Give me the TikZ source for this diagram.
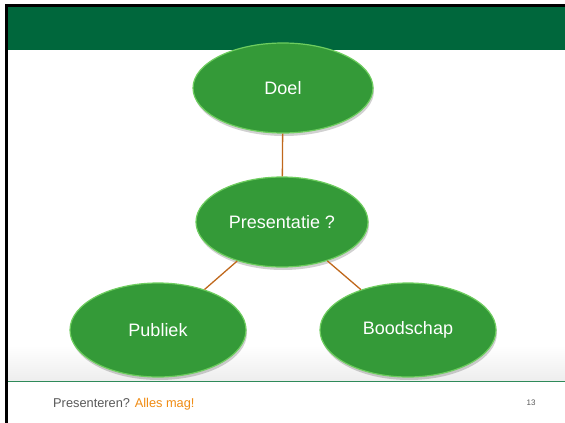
\documentclass[tikz,border=0pt]{standalone}
\usepackage{fontspec}
\setmainfont{Liberation Sans}
\usetikzlibrary{shapes.geometric,shadings}
\definecolor{bargreen}{RGB}{0,103,60}
\definecolor{ballgreen}{RGB}{52,154,56}
\definecolor{rimgreen}{RGB}{110,205,95}
\definecolor{linkbrown}{RGB}{192,104,28}
\definecolor{footgray}{RGB}{89,89,89}
\definecolor{footorange}{RGB}{240,140,20}
\definecolor{rulegreen}{RGB}{47,138,90}
\tikzset{
  ball/.style={ellipse, fill=ballgreen, draw=rimgreen, line width=1.2pt, inner sep=0pt,
    text=white, font=\fontsize{18}{20}\selectfont},
  ballshadow/.style={ellipse, fill=black, opacity=0.18, inner sep=0pt, draw=none},
  link/.style={draw=linkbrown, line width=1.3pt}
}
\begin{document}
\begin{tikzpicture}[x=1pt,y=-1pt]
\useasboundingbox (0,0) rectangle (565,423);
\fill[white] (0,0) rectangle (565,423);
% bottom gradient band
\shade[top color=white, bottom color=black!7] (7,345) rectangle (565,381);
\draw[rulegreen, line width=1.5pt] (7,381.5) -- (565,381.5);
% title bar
\fill[bargreen] (7,7) rectangle (565,50);
% black frame edges
\fill[black] (5,4) rectangle (565,7);
\fill[black] (5,4) rectangle (7.5,423);
% shadows
\node[ballshadow, minimum width=180pt, minimum height=90pt] at (284,91) {};
\node[ballshadow, minimum width=172pt, minimum height=90pt] at (283,225) {};
\node[ballshadow, minimum width=176pt, minimum height=94pt] at (159,333) {};
\node[ballshadow, minimum width=176pt, minimum height=94pt] at (409,333) {};
% nodes
\node[ball, minimum width=180pt, minimum height=90pt] (doel) at (283,88) {Doel};
\node[ball, minimum width=172pt, minimum height=90pt] (pres) at (282,222) {Presentatie ?};
\node[ball, minimum width=176pt, minimum height=94pt] (pub) at (158,330) {Publiek};
\node[ball, minimum width=176pt, minimum height=94pt] (bood) at (408,330) {Boodschap};
% connectors
\draw[link] (doel) -- (pres);
\draw[link] (pres) -- (pub);
\draw[link] (pres) -- (bood);
% footer
\node[anchor=west, inner sep=0pt, font=\fontsize{12.8}{14}\selectfont, text=footgray] (foot) at (53,404)
  {Presenteren? \textcolor{footorange}{Alles mag!}};
\node[inner sep=0pt, font=\fontsize{8}{9}\selectfont, text=footgray] (pg) at (531,403) {13};
\end{tikzpicture}
\end{document}
